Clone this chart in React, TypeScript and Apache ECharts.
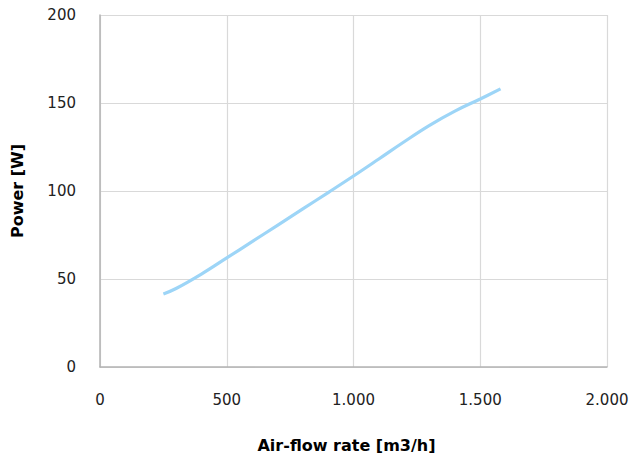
import React, { useEffect, useRef } from "react";
import * as echarts from "echarts";

const airFlow = [250, 300, 400, 500, 600, 700, 800, 900, 1000, 1100, 1200, 1300, 1400, 1500, 1580];
const power = [41.5, 44.6, 52.8, 62, 71.2, 80.5, 89.8, 99.1, 108.5, 118.2, 128, 137.3, 145.4, 152.3, 158];
const xTicks = [0, 500, 1000, 1500, 2000];
const yTicks = [0, 50, 100, 150, 200];

const fmt = (v: number) => String(v).replace(/\B(?=(\d{3})+(?!\d))/g, ".");

export default function App() {
  const ref = useRef<HTMLDivElement>(null);
  useEffect(() => {
    if (!ref.current) return;
    const chart = echarts.init(ref.current, undefined, { renderer: "svg" });
    chart.setOption({
      animation: false,
      textStyle: { fontFamily: "DejaVu Sans" },
      grid: { left: 100, right: 24, top: 15, bottom: 92, containLabel: false, outerBoundsMode: "none" },
      xAxis: {
        type: "value",
        min: xTicks[0],
        max: xTicks[xTicks.length - 1],
        interval: 500,
        name: "Air-flow rate [m3/h]",
        nameLocation: "middle",
        nameGap: 70,
        nameTextStyle: { fontSize: 16, fontWeight: "bold", color: "#000", padding: [0, 14, 0, 0] },
        axisLine: { lineStyle: { color: "#b3b3b3", width: 1.5 } },
        axisTick: { show: false },
        axisLabel: { color: "#222", fontSize: 15, margin: 25, formatter: (v: number) => fmt(v) },
        splitLine: { show: true, lineStyle: { color: "#d9d9d9", width: 1.2 } },
      },
      yAxis: {
        type: "value",
        min: yTicks[0],
        max: yTicks[yTicks.length - 1],
        interval: 50,
        name: "Power [W]",
        nameLocation: "middle",
        nameGap: 75,
        nameTextStyle: { fontSize: 16, fontWeight: "bold", color: "#000" },
        axisLine: { show: true, lineStyle: { color: "#b3b3b3", width: 1.5 } },
        axisTick: { show: false },
        axisLabel: { color: "#222", fontSize: 15, margin: 24 },
        splitLine: { show: true, lineStyle: { color: "#d9d9d9", width: 1.2 } },
      },
      series: [
        {
          type: "line",
          data: airFlow.map((x, i) => [x, power[i]]),
          smooth: 0.4,
          showSymbol: false,
          lineStyle: { color: "#9dd5f7", width: 3.2 },
        },
      ],
    });
    return () => chart.dispose();
  }, []);
  return <div ref={ref} style={{ position: "absolute", left: 0, top: 0, width: 631, height: 459 }} />;
}
